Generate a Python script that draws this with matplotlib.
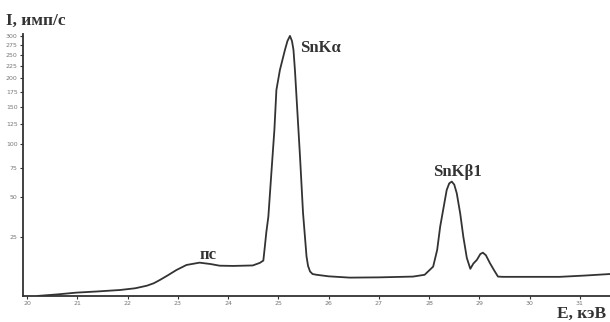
import numpy as np
import matplotlib.pyplot as plt

# spectrum: energy (keV) and intensity (counts/s)
energy = [20.21, 20.6, 20.98, 21.4, 21.85, 22.15, 22.38, 22.52, 22.64, 22.8, 22.97,
          23.17, 23.43, 23.65, 23.83, 24.1, 24.3, 24.49, 24.63, 24.70, 24.73, 24.76,
          24.80, 24.86, 24.92, 24.96, 25.03, 25.08, 25.13, 25.18, 25.23, 25.27,
          25.30, 25.33, 25.36, 25.43, 25.49, 25.56, 25.59, 25.63, 25.68, 25.76,
          26.0, 26.42, 27.0, 27.68, 27.91, 28.08, 28.16, 28.22, 28.35, 28.40,
          28.45, 28.50, 28.55, 28.62, 28.68, 28.75, 28.82, 28.88, 28.95, 29.02,
          29.07, 29.13, 29.21, 29.29, 29.37, 29.47, 30.0, 30.6, 31.1, 31.6]
intensity = [0.0, 0.5, 1.1, 1.5, 2.0, 2.6, 3.5, 4.4, 5.6, 7.4, 9.5,
             11.6, 12.6, 12.0, 11.3, 11.2, 11.3, 11.4, 12.5, 13.5, 20.0, 27.7,
             36.8, 70.1, 116.8, 177.9, 216.9, 239.0, 262.9, 286.0, 300.0, 286.0,
             263.0, 215.0, 166.3, 85.9, 39.2, 15.3, 11.2, 8.9, 7.9, 7.6,
             7.0, 6.5, 6.6, 6.9, 7.6, 10.9, 18.4, 30.8, 55.7, 61.0,
             62.5, 60.0, 53.1, 38.5, 25.2, 14.7, 10.0, 12.2, 13.8, 16.5,
             17.1, 15.9, 12.4, 9.5, 6.9, 6.8, 6.8, 6.8, 7.3, 7.9]

y_ticks = [25, 50, 75, 100, 125, 150, 175, 200, 225, 250, 275, 300]
x_ticks = [20, 21, 22, 23, 24, 25, 26, 27, 28, 29, 30, 31]

peaks = [("SnKα", 25.43, 258), ("SnKβ1", 28.07, 67), ("пс", 23.42, 14)]

ink = "#333333"
serif = ["Liberation Serif", "DejaVu Serif"]

fig = plt.figure(figsize=(6.1, 3.22), dpi=100)
ax = fig.add_axes([0.038, 0.081, 0.962, 0.813])

ax.plot(energy, intensity, color=ink, linewidth=1.3)

# the intensity axis is compressed like log(I + 40)
ax.set_yscale("function", functions=(lambda v: np.log10(np.maximum(v + 40, 1e-9)),
                                     lambda u: 10 ** u - 40))
ax.set_ylim(0, 305)
ax.set_xlim(19.92, 31.6)

ax.set_yticks(y_ticks)
ax.set_yticklabels([str(t) for t in y_ticks])
ax.set_xticks(x_ticks)
ax.set_xticklabels([str(t) for t in x_ticks])
ax.minorticks_off()
ax.tick_params(axis="both", labelsize=4.5, labelcolor="#777777", color=ink,
               length=2.5, width=0.8, direction="out", pad=1.5)

for s in ["top", "right"]:
    ax.spines[s].set_visible(False)
for s in ["left", "bottom"]:
    ax.spines[s].set_color(ink)
    ax.spines[s].set_linewidth(1.3)

for label, xe, yv in peaks:
    ax.text(xe, yv, label, fontsize=12, fontweight="bold", family=serif,
            color=ink, ha="left", va="baseline")

fig.text(0.01, 0.922, "I, имп/с", fontsize=12.5, fontweight="bold",
         family=serif, color=ink, ha="left", va="baseline")
fig.text(0.993, 0.014, "E, кэВ", fontsize=12.5, fontweight="bold",
         family=serif, color=ink, ha="right", va="baseline")

fig.savefig("out.png", dpi=100)
